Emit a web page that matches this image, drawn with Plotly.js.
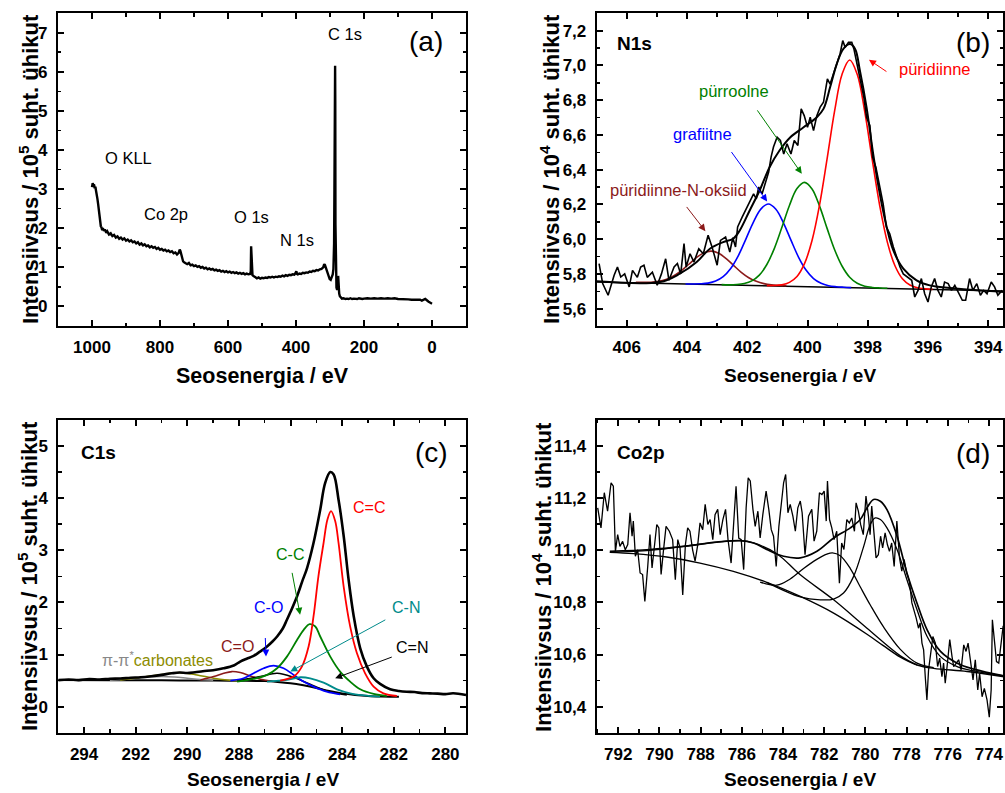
<!DOCTYPE html>
<html><head><meta charset="utf-8">
<script src="https://cdn.plot.ly/plotly-3.0.1.min.js"></script>
<style>html,body{margin:0;padding:0;background:#fff}</style>
</head><body><div id="chart" style="width:1005px;height:793px"></div>
<script>
// ---------- (a) survey ----------
const aE = [1000,998,996,994,992,990,988,986,984,982,
980,978,976,974,972,970,968,965,962,958,
955,950,945,940,935,930,925,920,915,910,
905,900,895,890,885,880,875,870,865,860,
855,850,845,840,835,830,825,820,815,810,
805,800,795,790,785,780,775,770,765,760,
755,750,745,742,740,737,735,732,728,725,
720,715,710,705,700,695,690,685,680,675,
670,665,660,655,650,645,640,635,630,625,
620,615,610,605,600,595,590,585,580,575,
570,565,560,555,550,545,540,535,533,532,
531,530,528,525,520,515,510,505,500,495,
490,485,480,475,470,465,460,455,450,445,
440,435,430,425,420,415,410,405,401,399,
397,395,390,385,380,375,370,365,360,355,
350,345,340,335,330,325,320,317,315,312,
308,304,301,298,295,292,290,288,287,286,
285,284.5,284,283,281,279,277,276,275,273,
271,268,265,260,255,250,245,240,235,230,
225,220,215,210,205,200,190,180,170,160,
150,140,130,120,110,100,90,80,70,60,
50,45,40,35,30,25,20,17,14,10,
6,3,0];
const aI = [3.05,3.15,3.10,3.12,3.02,3.06,2.95,2.88,2.75,2.62,
2.45,2.30,2.18,2.05,2.02,1.95,2.00,1.93,1.97,1.88,
1.92,1.84,1.87,1.80,1.83,1.76,1.79,1.73,1.76,1.71,
1.74,1.68,1.71,1.66,1.69,1.64,1.66,1.61,1.64,1.58,
1.61,1.56,1.59,1.54,1.56,1.51,1.54,1.50,1.52,1.47,
1.50,1.45,1.47,1.43,1.45,1.41,1.43,1.39,1.41,1.36,
1.38,1.33,1.37,1.45,1.42,1.30,1.20,1.15,1.12,1.10,
1.08,1.11,1.05,1.07,1.03,1.05,1.01,1.03,0.99,1.01,
0.97,0.99,0.95,0.97,0.94,0.96,0.92,0.94,0.91,0.93,
0.89,0.91,0.88,0.90,0.87,0.89,0.86,0.88,0.85,0.87,
0.84,0.86,0.83,0.85,0.82,0.84,0.82,0.83,0.90,1.54,
1.30,0.85,0.80,0.78,0.74,0.72,0.74,0.71,0.73,0.72,
0.74,0.73,0.75,0.74,0.76,0.74,0.76,0.75,0.77,0.76,
0.79,0.77,0.80,0.78,0.81,0.80,0.82,0.81,0.86,0.90,
0.83,0.82,0.84,0.83,0.86,0.85,0.87,0.86,0.89,0.88,
0.91,0.90,0.93,0.92,0.95,0.96,1.00,1.08,1.06,0.98,
0.88,0.78,0.70,0.68,0.74,0.82,0.95,1.6,3.0,4.8,
6.15,5.2,2.1,0.85,0.48,0.42,0.5,0.78,0.45,0.33,
0.26,0.22,0.20,0.21,0.19,0.20,0.19,0.21,0.19,0.20,
0.20,0.19,0.21,0.20,0.19,0.20,0.21,0.20,0.21,0.20,
0.21,0.20,0.21,0.20,0.21,0.19,0.19,0.18,0.18,0.17,
0.17,0.16,0.16,0.17,0.15,0.17,0.19,0.17,0.14,0.12,
0.10,0.08,0.07];

// ---------- (b) N1s ----------
const bE = [406.92,406.8,406.62,406.42,406.31,406.2,406.07,405.92,405.81,405.65,405.54,405.43,405.32,405.15,404.99,404.85,404.71,404.6,404.43,404.32,404.21,404.1,404.03,403.9,403.77,403.61,403.46,403.3,403.17,403.0,402.89,402.72,402.58,402.48,402.39,402.32,402.17,402.0,401.9,401.79,401.7,401.62,401.51,401.4,401.29,401.21,401.13,401.01,400.9,400.79,400.68,400.55,400.44,400.32,400.21,400.11,400.0,399.91,399.8,399.69,399.58,399.47,399.34,399.25,399.14,399.01,398.92,398.83,398.75,398.64,398.53,398.46,398.37,398.26,398.13,398.04,397.93,397.84,397.73,397.62,397.49,397.38,397.27,397.15,397.04,396.93,396.82,396.69,396.54,396.44,396.33,396.22,396.11,396.0,395.89,395.78,395.67,395.56,395.45,395.33,395.22,395.11,394.97,394.86,394.75,394.62,394.51,394.38,394.26,394.15,394.04,393.9,393.79,393.68,393.54];
const bI = [5.859,5.744,5.677,5.792,5.84,5.782,5.80,5.725,5.82,5.78,5.84,5.85,5.78,5.81,5.735,5.80,5.887,5.763,5.84,5.86,5.80,5.974,5.84,5.916,5.868,5.945,5.916,6.022,5.955,5.85,5.993,6.012,5.926,6.008,5.955,6.07,6.127,6.184,6.223,6.261,6.232,6.30,6.26,6.328,6.386,6.472,6.53,6.587,6.568,6.49,6.549,6.49,6.568,6.539,6.75,6.711,6.644,6.702,6.625,6.711,6.76,6.788,6.922,6.893,6.951,7.018,7.066,7.143,7.104,7.133,7.133,7.095,7.018,6.932,6.817,6.702,6.654,6.472,6.414,6.318,6.204,6.07,6.031,5.955,5.897,5.84,5.80,5.782,5.763,5.667,5.705,5.773,5.686,5.638,5.725,5.773,5.705,5.667,5.753,5.744,5.705,5.734,5.686,5.648,5.648,5.773,5.705,5.744,5.677,5.705,5.686,5.753,5.725,5.677,5.705];
const bFitE = [406.99,404.9,404.24,403.68,403.24,402.8,402.47,402.25,401.92,401.59,401.26,400.93,400.57,400.13,399.69,399.47,399.25,399.03,398.81,398.59,398.42,398.26,398.04,397.82,397.6,397.37,397.15,396.82,396.38,395.94,395.28,393.46];
const bFitI = [5.757,5.753,5.801,5.868,5.945,5.983,6.002,6.05,6.165,6.28,6.414,6.51,6.587,6.644,6.702,6.75,6.874,7.008,7.095,7.123,7.095,6.97,6.759,6.491,6.261,6.069,5.935,5.83,5.763,5.734,5.719,5.696];
const bBgE = [407.0,393.5];
const bBgI = [5.753,5.702];
const bPyE = [401.35,401.1,400.85,400.6,400.35,400.1,399.85,399.6,399.35,399.1,398.85,398.6,398.35,398.1,397.85,397.6,397.35,397.1,396.85,396.6,396.35,396.1,395.85];
const bPyI = [5.732,5.733,5.737,5.751,5.785,5.859,5.992,6.197,6.462,6.738,6.951,7.031,6.949,6.734,6.456,6.190,5.983,5.848,5.772,5.736,5.720,5.714,5.711];
const bPrE = [402.85,402.6,402.35,402.1,401.85,401.6,401.35,401.1,400.85,400.6,400.35,400.1,399.85,399.6,399.35,399.1,398.85,398.6,398.35,398.1,397.85,397.6,397.35];
const bPrI = [5.738,5.737,5.739,5.745,5.760,5.793,5.854,5.947,6.068,6.194,6.291,6.327,6.289,6.190,6.062,5.939,5.844,5.781,5.746,5.729,5.722,5.719,5.717];
const bGrE = [404.05,403.8,403.55,403.3,403.05,402.8,402.55,402.3,402.05,401.8,401.55,401.3,401.05,400.8,400.55,400.3,400.05,399.8,399.55,399.3,399.05,398.8,398.55];
const bGrI = [5.742,5.742,5.743,5.747,5.759,5.784,5.831,5.904,5.999,6.097,6.173,6.202,6.172,6.094,5.994,5.897,5.822,5.773,5.746,5.732,5.726,5.723,5.721];
const bOxE = [405.7,405.45,405.2,404.95,404.7,404.45,404.2,403.95,403.7,403.45,403.2,402.95,402.7,402.45,402.2,401.95,401.7,401.45,401.2,400.95,400.7];
const bOxI = [5.751,5.751,5.752,5.757,5.768,5.788,5.817,5.854,5.892,5.921,5.931,5.919,5.888,5.848,5.809,5.778,5.757,5.744,5.737,5.734,5.732];

// ---------- (c) C1s ----------
const cE = [295.0,294.6,294.2,293.8,293.4,293.0,292.6,292.2,291.8,291.4,291.0,290.6,290.3,290.0,289.7,289.4,289.0,288.6,288.2,287.95,287.7,287.43,287.2,286.91,286.7,286.52,286.3,286.14,286.0,285.75,285.55,285.36,285.11,284.85,284.66,284.46,284.33,284.14,283.94,283.75,283.55,283.3,283.04,282.78,282.53,282.14,281.8,281.5,281.2,280.9,280.6,280.3,280.0,279.7,279.2];
const cI = [0.51,0.52,0.51,0.53,0.52,0.535,0.54,0.555,0.565,0.585,0.61,0.64,0.655,0.645,0.66,0.68,0.70,0.735,0.79,0.865,0.92,0.974,1.05,1.154,1.25,1.346,1.50,1.667,1.82,2.115,2.40,2.66,3.14,3.78,4.29,4.50,4.455,3.97,3.27,2.436,1.73,1.12,0.769,0.545,0.436,0.333,0.30,0.285,0.28,0.26,0.255,0.25,0.24,0.256,0.224];
const cBgE = [295,293,291,289,288,287,286.5,286,285.5,285,284.5,284,283.5,283,282.5,282,281.8];
const cBgI = [0.51,0.508,0.505,0.50,0.497,0.49,0.475,0.45,0.41,0.36,0.30,0.255,0.225,0.205,0.195,0.19,0.188];
const cPiE = [293.0,292.5,292.0,291.5,291.0,290.5,290.0,289.5,289.0];
const cPiI = [0.508,0.52,0.545,0.57,0.58,0.57,0.545,0.52,0.505];
const cCarbE = [292.6,292.2,291.56,290.91,290.27,289.62,288.98,288.46,288.0];
const cCarbI = [0.51,0.538,0.577,0.622,0.654,0.609,0.545,0.513,0.498];
const cCOdE = [289.49,288.98,288.59,288.27,287.95,287.56,287.17,286.79];
const cCOdI = [0.513,0.577,0.641,0.673,0.654,0.59,0.526,0.494];
const cCOE = [288.33,287.82,287.43,287.04,286.66,286.27,285.88,285.5,285.11,284.6,284.08];
const cCOI = [0.5,0.545,0.641,0.737,0.788,0.737,0.609,0.481,0.385,0.288,0.237];
const cCNdE = [288.07,287.17,286.52,285.88,285.24,284.6,283.82];
const cCNdI = [0.5,0.577,0.641,0.564,0.43,0.301,0.224];
const cCNE = [286.91,286.14,285.62,285.24,284.72,284.2,283.69,283.17,282.53];
const cCNI = [0.481,0.513,0.564,0.545,0.462,0.333,0.256,0.218,0.192];
const cCCE = [288.07,287.43,286.91,286.52,286.14,285.75,285.49,285.26,285.04,284.85,284.46,284.08,283.69,283.3,282.78,282.27];
const cCCI = [0.481,0.532,0.609,0.737,0.96,1.28,1.474,1.583,1.538,1.346,0.96,0.673,0.481,0.333,0.244,0.205];
const cCdCE = [286.4,285.88,285.56,285.3,285.11,284.92,284.72,284.57,284.43,284.27,284.14,283.94,283.69,283.43,283.11,282.78,282.4,281.88];
const cCdCI = [0.5,0.577,0.769,1.154,1.73,2.5,3.14,3.59,3.75,3.56,3.14,2.3,1.54,1.03,0.64,0.385,0.256,0.205];

// ---------- (d) Co2p ----------
const dE = [793.0,792.84,792.68,792.52,792.35,792.24,792.14,792.03,791.92,791.79,791.66,791.54,791.43,791.33,791.27,791.17,791.06,790.94,790.82,790.71,790.57,790.46,790.36,790.25,790.13,790.03,789.92,789.81,789.68,789.52,789.36,789.23,789.11,789.0,788.87,788.74,788.63,788.52,788.39,788.27,788.14,788.03,787.9,787.78,787.65,787.54,787.41,787.3,787.17,787.05,786.92,786.79,786.67,786.52,786.41,786.28,786.15,786.03,785.91,785.79,785.69,785.59,785.46,785.35,785.22,785.11,784.98,784.82,784.69,784.57,784.46,784.33,784.2,784.08,783.97,783.87,783.76,783.65,783.52,783.4,783.28,783.16,783.07,
782.93,782.76,782.6,782.49,782.36,782.23,782.11,782.0,781.9,781.84,781.74,781.63,781.52,781.39,781.26,781.15,781.04,780.9,780.78,780.66,780.53,780.45,780.34,780.23,780.1,779.97,779.85,779.77,779.69,779.58,779.48,779.37,779.26,779.16,779.04,778.93,778.83,778.72,778.6,778.47,778.34,778.23,778.12,777.99,777.86,777.74,777.63,777.53,777.42,777.34,777.25,777.17,777.09,777.01,776.93,776.85,776.72,776.6,776.49,776.39,776.28,776.2,776.12,776.03,775.9,775.79,775.71,775.58,775.47,775.35,775.22,775.11,775.01,774.9,774.77,774.66,774.54,774.45,774.33,774.22,774.09,773.98,773.89,773.83,773.73,773.63,773.52,773.41,773.31,773.2];
const dI = [11.163,11.086,11.221,11.15,11.259,11.246,10.996,11.06,11.015,11.034,11.002,11.022,11.144,11.054,11.112,10.977,11.002,10.913,10.907,10.804,10.938,11.06,10.932,11.002,11.099,11.086,10.907,10.996,11.092,11.073,11.041,10.887,11.041,11.009,10.829,11.022,11.086,11.073,11.002,10.958,11.022,11.105,11.079,11.176,11.099,11.118,11.041,11.137,11.157,11.06,11.118,11.157,11.041,10.951,11.099,11.246,11.047,11.041,10.926,11.163,11.278,11.266,11.157,11.092,11.15,11.047,11.137,11.227,11.157,11.079,11.054,10.938,11.092,11.169,11.259,11.291,11.144,11.176,11.131,11.073,11.163,11.189,11.144,
10.983,11.131,11.157,11.035,11.073,11.221,11.214,11.227,11.112,11.266,11.118,11.086,11.041,11.073,10.874,11.028,11.003,11.118,11.105,11.124,11.073,11.182,11.15,11.099,11.06,11.208,11.131,11.06,11.17,11.08,10.971,10.983,11.054,11.009,11.067,11.022,10.996,11.028,10.938,11.112,10.971,10.92,10.965,10.913,10.881,10.798,10.772,10.74,10.701,10.721,10.644,10.618,10.515,10.426,10.541,10.592,10.669,10.644,10.554,10.586,10.515,10.567,10.49,10.554,10.657,10.592,10.554,10.567,10.58,10.541,10.637,10.612,10.644,10.58,10.503,10.58,10.464,10.528,10.438,10.47,10.426,10.36,10.464,10.733,10.657,10.573,10.567,10.631,10.708,10.708];
const dBgE = [792.41,791.27,789.65,788.03,786.41,784.79,783.16,781.54,779.92,779.11,778.3,777.49,776.68,775.06,773.27];
const dBgI = [10.992,10.987,10.974,10.951,10.919,10.877,10.823,10.759,10.678,10.633,10.59,10.56,10.547,10.535,10.515];
const dP3E = [792.41,790.46,788.84,787.22,786.08,785.43,784.3,783.16,781.54,779.92,778.3,777.49];
const dP3I = [10.992,11.0,11.015,11.031,11.037,11.028,10.987,10.906,10.81,10.701,10.595,10.56];
const dP2E = [785.11,784.3,783.65,783.0,782.36,781.87,781.6,781.22,780.73,780.25,779.76,779.11,778.3,777.49,776.68];
const dP2I = [10.878,10.866,10.89,10.93,10.965,10.985,10.99,10.979,10.93,10.86,10.79,10.705,10.62,10.567,10.55];
const dP1E = [784.79,783.16,782.19,781.54,781.06,780.57,780.08,779.76,779.52,779.27,778.95,778.46,777.98,777.49,777.0,776.35,775.54,774.73,773.27];
const dP1I = [10.877,10.821,10.81,10.813,10.836,10.9,11.015,11.099,11.124,11.118,11.086,11.003,10.887,10.772,10.669,10.592,10.554,10.537,10.518];
const dFitE = [792.41,790.46,788.84,787.22,786.08,785.43,784.79,783.97,783.16,782.35,781.54,780.73,780.25,779.92,779.6,779.27,778.95,778.46,777.98,777.49,777.0,776.35,775.54,774.73,773.27];
const dFitI = [10.996,11.003,11.015,11.031,11.037,11.028,11.003,10.977,10.971,10.996,11.047,11.086,11.118,11.163,11.195,11.188,11.156,11.054,10.913,10.797,10.695,10.612,10.567,10.544,10.518];

// tick labels
const bYTicks = [5.6,5.8,6.0,6.2,6.4,6.6,6.8,7.0,7.2];
const bYLabels = ['5,6','5,8','6,0','6,2','6,4','6,6','6,8','7,0','7,2'];
const dYTicks = [10.4,10.6,10.8,11.0,11.2,11.4];
const dYLabels = ['10,4','10,6','10,8','11,0','11,2','11,4'];

const FONT = 'Liberation Sans, Arial, Helvetica, sans-serif';
const RED='#ff0000', GREEN='#008000', BLUE='#0000ff', DRED='#8b1a1a', TEAL='#008b8b', OLIVE='#8c8c00', GRAY='#888888';

function tr(x,y,xa,ya,color,width,shape){
  return {x:x,y:y,xaxis:xa,yaxis:ya,type:'scatter',mode:'lines',hoverinfo:'skip',
    line:{color:color,width:width,shape:shape||'linear'}};
}
const traces = [
  tr(aE,aI,'x','y','#000',2.4),
  tr(bBgE,bBgI,'x2','y2','#000',1.5),
  tr(bOxE,bOxI,'x2','y2',DRED,1.6,'spline'),
  tr(bGrE,bGrI,'x2','y2',BLUE,1.6,'spline'),
  tr(bPrE,bPrI,'x2','y2',GREEN,1.6,'spline'),
  tr(bPyE,bPyI,'x2','y2',RED,1.6,'spline'),
  tr(bE,bI,'x2','y2','#000',1.6),
  tr(bFitE,bFitI,'x2','y2','#000',2,'spline'),
  tr(cBgE,cBgI,'x3','y3','#000',2,'spline'),
  tr(cPiE,cPiI,'x3','y3',GRAY,1.5,'spline'),
  tr(cCarbE,cCarbI,'x3','y3',OLIVE,1.6,'spline'),
  tr(cCOdE,cCOdI,'x3','y3',DRED,1.6,'spline'),
  tr(cCNdE,cCNdI,'x3','y3','#000',1.6,'spline'),
  tr(cCOE,cCOI,'x3','y3',BLUE,1.8,'spline'),
  tr(cCNE,cCNI,'x3','y3',TEAL,1.8,'spline'),
  tr(cCCE,cCCI,'x3','y3',GREEN,1.8,'spline'),
  tr(cCdCE,cCdCI,'x3','y3',RED,1.8,'spline'),
  tr(cE,cI,'x3','y3','#000',2.6,'spline'),
  tr(dBgE,dBgI,'x4','y4','#000',1.4,'spline'),
  tr(dP3E,dP3I,'x4','y4','#000',1.3,'spline'),
  tr(dP2E,dP2I,'x4','y4','#000',1.3,'spline'),
  tr(dP1E,dP1I,'x4','y4','#000',1.3,'spline'),
  tr(dE,dI,'x4','y4','#000',1.3),
  tr(dFitE,dFitI,'x4','y4','#000',1.7,'spline')
];

const tickFont = {family:FONT,size:17,color:'#000',weight:'bold'};
function ax(domain, range, anchor, extra){
  const o = {domain:domain, range:range, anchor:anchor, showgrid:false, zeroline:false,
    showline:true, linecolor:'#000', linewidth:2, mirror:'allticks',
    ticks:'inside', ticklen:6, tickwidth:2, tickcolor:'#000',
    tickfont:tickFont, ticklabelstandoff:5, fixedrange:true};
  return Object.assign(o, extra);
}
const layout = {
  width:1005, height:793, autosize:false,
  margin:{l:0,r:0,t:0,b:0,pad:0},
  paper_bgcolor:'#fff', plot_bgcolor:'#fff', showlegend:false,
  font:{family:FONT,color:'#000'},
  xaxis: ax([0.0577,0.4637],[1100,-100],'y',{dtick:200,tick0:0,minor:{ticks:'inside',ticklen:3.5,tickwidth:1.5,dtick:100,tick0:0,tickcolor:'#000'}}),
  yaxis: ax([0.5889,0.9836],[-0.5,7.5],'x',{dtick:1,tick0:0,minor:{ticks:'inside',ticklen:3.5,tickwidth:1.5,dtick:0.5,tick0:0,tickcolor:'#000'}}),
  xaxis2: ax([0.5937,0.9983],[407,393.5],'y2',{dtick:2,tick0:0,minor:{ticks:'inside',ticklen:3.5,tickwidth:1.5,dtick:1,tick0:0,tickcolor:'#000'}}),
  yaxis2: ax([0.5889,0.9832],[5.5,7.3],'x2',{tickmode:'array',tickvals:bYTicks,ticktext:bYLabels,minor:{ticks:'inside',ticklen:3.5,tickwidth:1.5,dtick:0.1,tick0:0,tickcolor:'#000'}}),
  xaxis3: ax([0.0580,0.4637],[295,279.2],'y3',{dtick:2,tick0:0,minor:{ticks:'inside',ticklen:3.5,tickwidth:1.5,dtick:1,tick0:0,tickcolor:'#000'}}),
  yaxis3: ax([0.0760,0.4704],[-0.5,5.5],'x3',{dtick:1,tick0:0,minor:{ticks:'inside',ticklen:3.5,tickwidth:1.5,dtick:0.5,tick0:0,tickcolor:'#000'}}),
  xaxis4: ax([0.5937,0.9983],[793.05,773.3],'y4',{dtick:2,tick0:0,minor:{ticks:'inside',ticklen:3.5,tickwidth:1.5,dtick:1,tick0:0,tickcolor:'#000'}}),
  yaxis4: ax([0.0760,0.4704],[10.3,11.5],'x4',{tickmode:'array',tickvals:dYTicks,ticktext:dYLabels,minor:{ticks:'inside',ticklen:3.5,tickwidth:1.5,dtick:0.1,tick0:0,tickcolor:'#000'}}),
  annotations: []
};

function lab(xr,yr,x,y,text,size,color,bold){
  layout.annotations.push({xref:xr,yref:yr,x:x,y:y,text:text,showarrow:false,
    xanchor:'center',yanchor:'middle',
    font:{family:FONT,size:size,color:color||'#000',weight:bold?'bold':'normal'}});
}
function arrow(xr,yr,hx,hy,tx,ty,color){
  layout.annotations.push({xref:xr,yref:yr,axref:xr,ayref:yr,x:hx,y:hy,ax:tx,ay:ty,text:'',
    showarrow:true,arrowhead:2,arrowsize:1.4,arrowwidth:1,arrowcolor:color});
}
function ptitle(x,y,text,size,angle){
  layout.annotations.push({xref:'paper',yref:'paper',x:x,y:y,text:text,showarrow:false,
    xanchor:'center',yanchor:'middle',textangle:angle||0,
    font:{family:FONT,size:size,color:'#000',weight:'bold'}});
}

// panel (a)
lab('x','y',256.5,6.96,'C 1s',16.5);
lab('x','y',892.6,3.80,'O KLL',16.5);
lab('x','y',781.3,2.35,'Co 2p',16.5);
lab('x','y',531.6,2.28,'O 1s',16.5);
lab('x','y',398,1.71,'N 1s',16.5);
lab('x','y',18.8,6.78,'(a)',28);
// panel (b)
lab('x2','y2',405.76,7.124,'N1s',19,'#000',true);
lab('x2','y2',394.51,7.133,'(b)',28);
lab('x2','y2',395.78,6.98,'püridiinne',16.5,RED);
lab('x2','y2',402.45,6.85,'pürroolne',16.5,GREEN);
lab('x2','y2',403.48,6.608,'grafiitne',16.5,BLUE);
lab('x2','y2',404.27,6.284,'püridiinne-N-oksiid',16.5,DRED);
arrow('x2','y2',397.96,7.033,397.33,6.959,RED);
arrow('x2','y2',400.19,6.376,401.70,6.75,GREEN);
arrow('x2','y2',401.34,6.217,402.56,6.51,BLUE);
arrow('x2','y2',403.39,6.046,404.05,6.194,DRED);
// panel (c)
lab('x3','y3',293.46,4.87,'C1s',19,'#000',true);
lab('x3','y3',280.53,4.87,'(c)',28);
lab('x3','y3',282.96,3.815,'C=C',16,RED);
lab('x3','y3',286.01,2.917,'C-C',16,GREEN);
lab('x3','y3',286.85,1.908,'C-O',16,BLUE);
lab('x3','y3',288.05,1.148,'C=O',16,DRED);
lab('x3','y3',281.52,1.908,'C-N',16,TEAL);
lab('x3','y3',281.3,1.138,'C=N',16,'#000');
lab('x3','y3',291.16,0.917,'<span style="color:'+GRAY+'">π-π<sup>*</sup></span>carbonates',16,OLIVE);
arrow('x3','y3',285.63,1.763,285.95,2.596,GREEN);
arrow('x3','y3',286.95,0.962,286.98,1.346,BLUE);
arrow('x3','y3',286.01,0.673,282.27,1.681,TEAL);
arrow('x3','y3',284.27,0.546,282.02,0.962,'#000');
// panel (d)
lab('x4','y4',790.9,11.375,'Co2p',19,'#000',true);
lab('x4','y4',774.77,11.371,'(d)',28);

// axis titles
ptitle(0.2612,0.5259,'Seosenergia / eV',21.5);
ptitle(0.7965,0.5271,'Seosenergia / eV',19);
ptitle(0.2612,0.0164,'Seosenergia / eV',19);
ptitle(0.7965,0.0164,'Seosenergia / eV',19);
ptitle(0.0289,0.7869,'Intensiivsus / 10<sup>5</sup> suht. ühikut',22,-90);
ptitle(0.5473,0.7869,'Intensiivsus / 10<sup>4</sup> suht. ühikut',22,-90);
ptitle(0.0279,0.2736,'Intensiivsus / 10<sup>5</sup> suht. ühikut',22,-90);
ptitle(0.5393,0.2724,'Intensiivsus / 10<sup>4</sup> suht. ühikut',22,-90);

Plotly.newPlot('chart', traces, layout, {staticPlot:true, displayModeBar:false});
</script></body></html>
